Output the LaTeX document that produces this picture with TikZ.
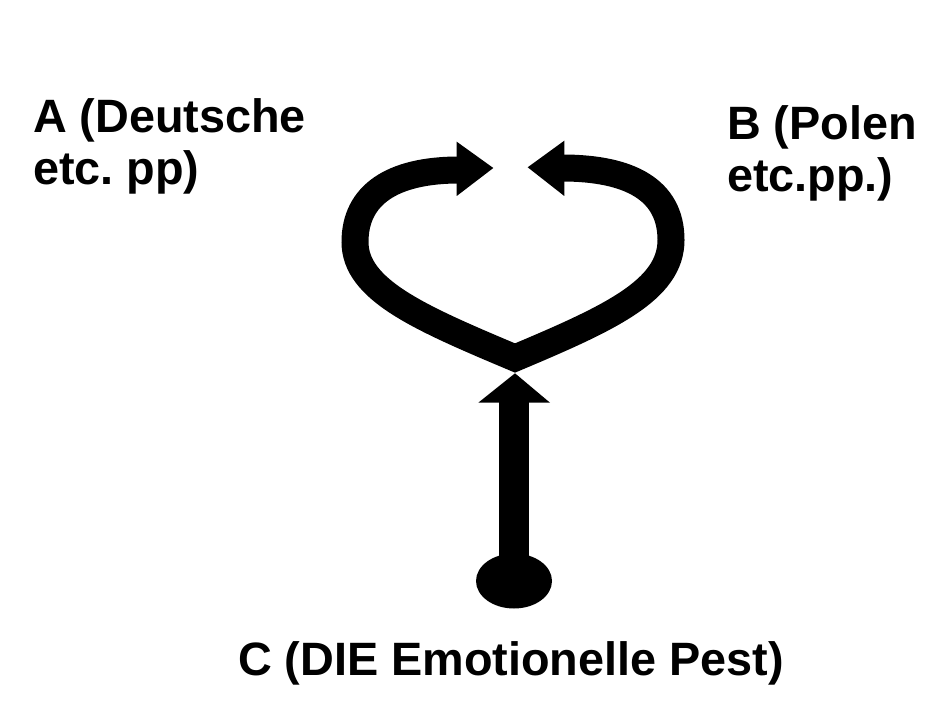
\documentclass[tikz,border=0pt]{standalone}
\usepackage{fontspec}
\setmainfont{Liberation Sans}
\frenchspacing
\begin{document}
\begin{tikzpicture}[x=1pt,y=-1pt,
  band/.style={line width=27pt, line join=miter, miter limit=10},
  txt/.style={inner sep=0pt, outer sep=0pt, anchor=base west, align=left,
    font=\fontsize{46.8}{52}\selectfont\bfseries}]
\fill[white] (0,0) rectangle (949,708);
\useasboundingbox (0,0) rectangle (949,708);
% named points of the heart-shaped arrows
\coordinate (V) at (515,358);
\coordinate (LB) at (459,170);
\coordinate (LL) at (355,242);
\coordinate (RR) at (671,240);
\coordinate (RB) at (562,168);
\coordinate (LT) at (493.3,168);
\coordinate (RT) at (527.7,167.3);
\coordinate (CT) at (515,373.3);
\coordinate (CS) at (514,581);
% heart band
\draw[band] (LB) .. controls (392,170) and (355,195) .. (LL)
  .. controls (355,290) and (420,318) .. (V)
  .. controls (610,318) and (671,290) .. (RR)
  .. controls (671,190) and (630,168) .. (RB);
% arrowheads
\fill (456.7,141.7) -- (LT) -- (456.7,196) -- cycle;
\fill (564.3,140.7) -- (RT) -- (564.3,196) -- cycle;
% vertical arrow from C
\fill (478.3,402.7) -- (CT) -- (550,402.7) -- cycle;
\fill (499.3,400) rectangle (529.3,581);
\fill (CS) ellipse [x radius=38pt, y radius=27.5pt];
% labels (base anchor = baseline of the last line)
\node[txt] (A) at (33,185) {A (Deutsche\\etc. pp)};
\node[txt] (B) at (727,191.7) {B (Polen\\etc.pp.)};
\node[txt] (C) at (238,675) {C (DIE Emotionelle Pest)};
\end{tikzpicture}
\end{document}
